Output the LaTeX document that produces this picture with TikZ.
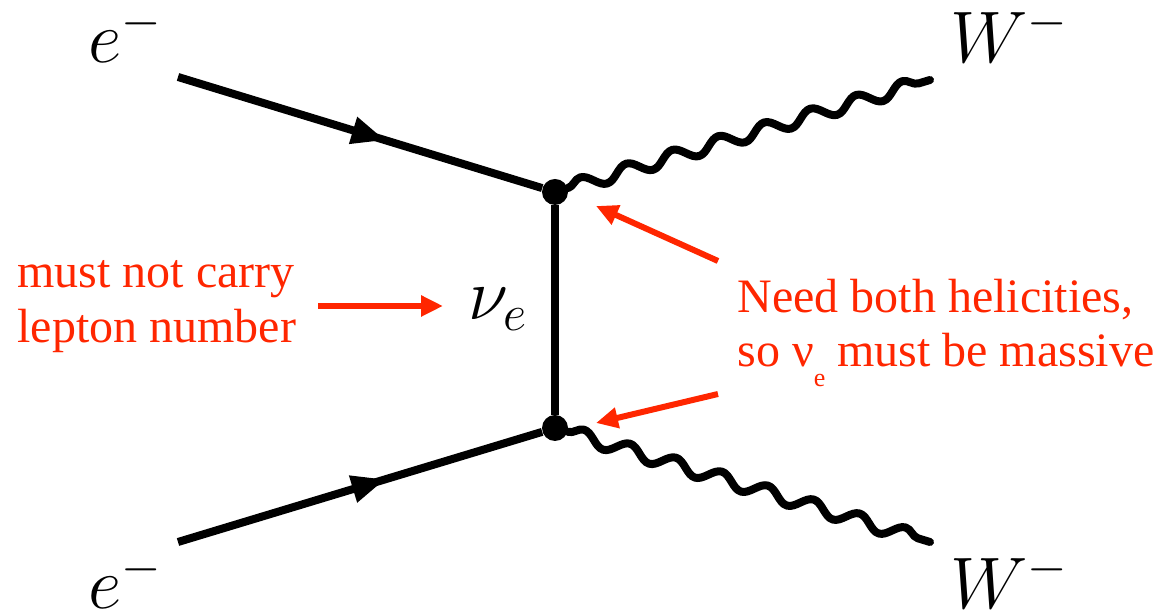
\documentclass[tikz,border=0pt]{standalone}
\usepackage{graphicx}
\usepackage{fontspec}
\setmainfont{Liberation Serif}
\usetikzlibrary{arrows.meta,decorations.pathmorphing,decorations.markings}
\definecolor{annot}{RGB}{255,38,0}
\newcommand{\biglab}[1]{\scalebox{1.76}{#1}}
\begin{document}
\begin{tikzpicture}[x=0.5pt,y=-0.5pt,
  fermion/.style={line width=4pt, postaction={decorate},
    decoration={markings, mark=at position 0.57 with {\arrow{Triangle[length=17pt,width=13pt]}}}},
  boson/.style={line width=4pt, line cap=round, line join=round, decorate,
    decoration={snake, segment length=24pt, amplitude=3.4pt}},
  vertex/.style={circle, fill=black, minimum size=13pt, inner sep=0pt},
  mathlabel/.style={inner sep=0pt, anchor=base west, font=\fontsize{20.74}{24}\selectfont},
  note/.style={inner sep=0pt, anchor=base west, text=annot, font=\rmfamily\fontsize{24}{27}\selectfont},
  pointer/.style={draw=annot, line width=3pt, -{Triangle[length=11pt,width=10pt]}}]
\useasboundingbox (0,0) rectangle (1163,613);

% vertices and external points
\node[vertex] (v1) at (555,192) {};
\node[vertex] (v2) at (555,428) {};
\coordinate (e1) at (178,77);
\coordinate (e2) at (178,542);
\coordinate (w1) at (930,80);
\coordinate (w2) at (930,542);

% propagators
\draw[fermion] (e1) -- (v1);
\draw[fermion] (e2) -- (v2);
\draw[line width=4pt] (v1) -- (v2);
\draw[boson] (v1) -- (w1);
\draw[boson] (v2) -- (w2);

% particle labels
\node[mathlabel] (e1lab) at (88,63) {\biglab{$e^{\smash{-}}$}};
\node[mathlabel] (w1lab) at (950,63) {\biglab{$W^{\smash{-}}$}};
\node[mathlabel] (e2lab) at (88,609) {\biglab{$e^{\smash{-}}$}};
\node[mathlabel] (w2lab) at (950,609) {\biglab{$W^{\smash{-}}$}};
\node[mathlabel] (nulab) at (468,320) {\biglab{$\nu_e$}};

% annotations
\node[note] (n1a) at (17,288) {must not carry};
\node[note] (n1b) at (17,343) {lepton number};
\node[note] (n2a) at (737,313) {Need both helicities,};
\node[note] (n2b) at (737,367) {so ν\raisebox{-10pt}{\fontsize{13}{13}\selectfont e} must be massive};

\coordinate (p1s) at (318,306);
\coordinate (p1e) at (443,306);
\coordinate (p2s) at (718,261);
\coordinate (p2e) at (596,206);
\coordinate (p3s) at (718,394);
\coordinate (p3e) at (596,423);
\draw[pointer] (p1s) -- (p1e);
\draw[pointer] (p2s) -- (p2e);
\draw[pointer] (p3s) -- (p3e);
\end{tikzpicture}
\end{document}
